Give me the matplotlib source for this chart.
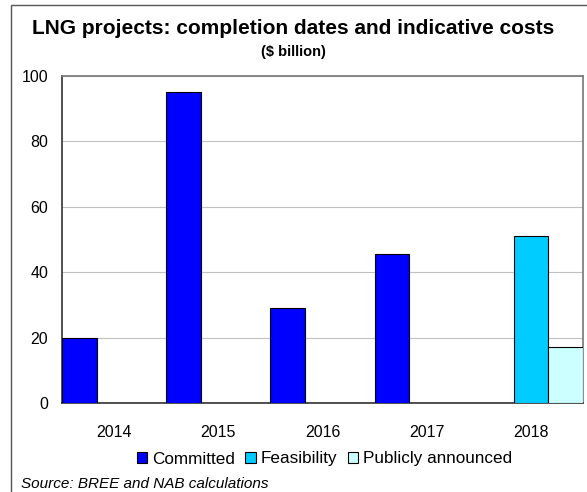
import numpy as np
import matplotlib
matplotlib.use('Agg')
import matplotlib.pyplot as plt
from matplotlib.patches import Rectangle

plt.rcParams['font.family'] = ['Liberation Sans', 'DejaVu Sans']

# data
years = ['2014', '2015', '2016', '2017', '2018']
committed = [20, 95, 29, 45.5, 0]
feasibility = [0, 0, 0, 0, 51]
announced = [0, 0, 0, 0, 17]

series = [('Committed', committed, '#0000FF'),
          ('Feasibility', feasibility, '#00CCFF'),
          ('Publicly announced', announced, '#CCFFFF')]

fig = plt.figure(figsize=(5.87, 4.92), dpi=100)
ax = fig.add_axes([62 / 587, 1 - 403 / 492, 521 / 587, 327 / 492])

x = np.arange(len(years))
w = 1 / 3
for i, (name, vals, col) in enumerate(series):
    ax.bar(x + (i - 1) * w, vals, width=w, color=col, edgecolor='black',
           linewidth=0.8, label=name, zorder=3)

ax.set_xlim(-0.5, 4.5)
ax.set_ylim(0, 100)
ax.set_yticks([0, 20, 40, 60, 80, 100])
ax.set_xticks(x)
ax.set_xticklabels(years)
ax.tick_params(length=0, labelsize=11.5, colors='black')
ax.tick_params(axis='x', pad=16)
ax.tick_params(axis='y', pad=10)
ax.yaxis.grid(True, color='#C0C0C0', linewidth=0.8, zorder=0)

for s in ['left', 'bottom']:
    ax.spines[s].set_color('#333333')
    ax.spines[s].set_linewidth(1.2)
for s in ['top', 'right']:
    ax.spines[s].set_color('#777777')
    ax.spines[s].set_linewidth(1.2)

fig.text(0.5, 1 - 29 / 492, 'LNG projects: completion dates and indicative costs',
         ha='center', va='center', fontsize=15, fontweight='bold')
fig.text(0.5, 1 - 52 / 492, '($ billion)', ha='center', va='center',
         fontsize=10.5, fontweight='bold')

ax.legend(loc='center', bbox_to_anchor=(0.5 + 2 / 521, (403 - 459) / 327),
          ncol=3, frameon=False, fontsize=12.3, handlelength=0.6,
          handleheight=0.6, handletextpad=0.3, columnspacing=0.6,
          borderaxespad=0)

fig.text(21 / 587, 1 - 484 / 492, 'Source: BREE and NAB calculations',
         ha='left', va='center', fontsize=11, style='italic')

fig.patches.append(Rectangle((11 / 587, -0.1), 1.2, 1 - 5 / 492 + 0.1,
                             transform=fig.transFigure, fill=False,
                             edgecolor='#555555', linewidth=1))

fig.savefig('out.png', dpi=100)
